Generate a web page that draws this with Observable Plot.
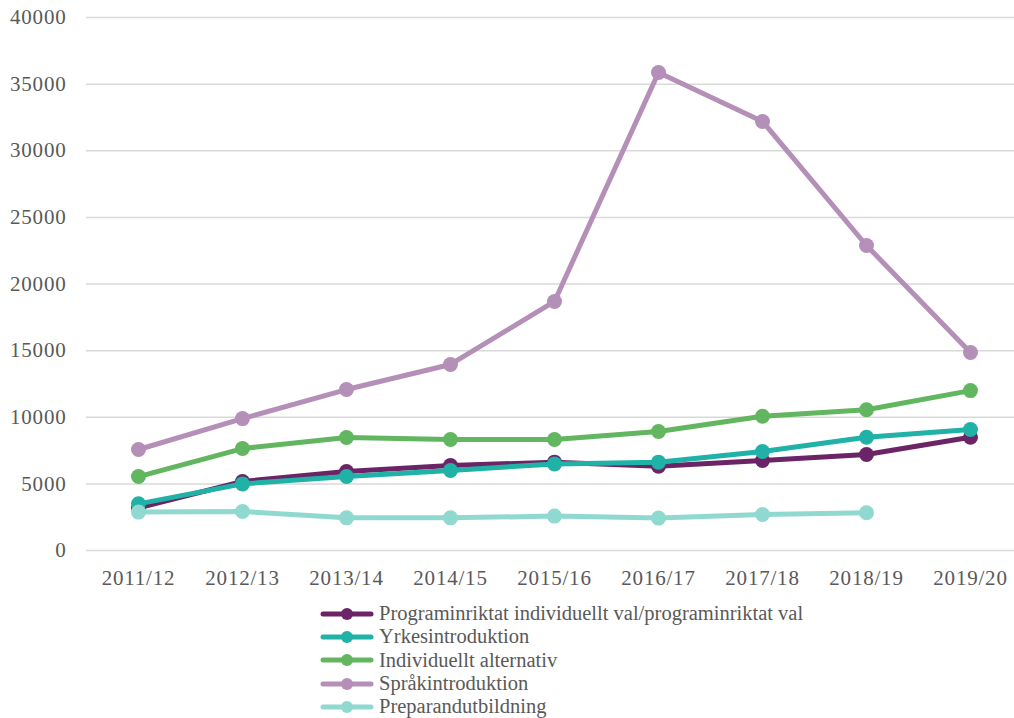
<!DOCTYPE html>
<html>
<head>
<meta charset="utf-8">
<script src="https://cdn.jsdelivr.net/npm/d3@7"></script>
<script src="https://cdn.jsdelivr.net/npm/@observablehq/plot@0.6"></script>
<style>
  html, body { margin: 0; padding: 0; background: #fff; }
  #chart { width: 1014px; }
  .legend { margin-left: 320px; margin-top: 7px; font-family: "Liberation Serif", serif; font-size: 20.5px; color: #595959; }
  .legend .item { display: flex; align-items: center; height: 23.3px; }
  .legend svg { margin-right: 5px; flex: none; }
</style>
</head>
<body>
<div id="chart"></div>
<script>
const years = ["2011/12","2012/13","2013/14","2014/15","2015/16","2016/17","2017/18","2018/19","2019/20"];
const seriesNames = [
  "Programinriktat individuellt val/programinriktat val",
  "Yrkesintroduktion",
  "Individuellt alternativ",
  "Språkintroduktion",
  "Preparandutbildning"
];
const colors = ["#6B2466", "#20B2A6", "#62B660", "#B48FB7", "#90D9D1"];
const programinriktat = [3200, 5180, 5930, 6380, 6630, 6330, 6750, 7200, 8500];
const yrkesintroduktion = [3500, 5000, 5550, 6000, 6500, 6630, 7430, 8500, 9080];
const individuellt = [5550, 7650, 8480, 8330, 8330, 8930, 10080, 10560, 12000];
const sprakintroduktion = [7580, 9900, 12080, 13960, 18690, 35870, 32200, 22890, 14860];
const preparand = [2880, 2930, 2450, 2450, 2580, 2430, 2700, 2830, null];
const yTicks = [0, 5000, 10000, 15000, 20000, 25000, 30000, 35000, 40000];

const allSeries = [programinriktat, yrkesintroduktion, individuellt, sprakintroduktion, preparand];
const data = [];
allSeries.forEach((vals, si) => {
  vals.forEach((v, i) => {
    if (v != null) data.push({series: seriesNames[si], year: years[i], value: v});
  });
});

const marks = [
  Plot.ruleY(yTicks, {stroke: "#d9d9d9", strokeWidth: 1.5})
];
seriesNames.forEach((name, si) => {
  const d = data.filter(r => r.series === name);
  marks.push(Plot.line(d, {x: "year", y: "value", stroke: colors[si], strokeWidth: 5, strokeLinejoin: "round"}));
  marks.push(Plot.dot(d, {x: "year", y: "value", fill: colors[si], r: 7.5, stroke: "none"}));
});

const chart = Plot.plot({
  width: 1014,
  height: 595,
  marginLeft: 86,
  marginRight: 0,
  marginTop: 17,
  marginBottom: 45,
  style: {fontFamily: "'Liberation Serif', serif", fontSize: "21px", color: "#595959", background: "#fff", letterSpacing: "0.8px"},
  x: {type: "point", domain: years, range: [138, 970], padding: 0, tickSize: 0, tickPadding: 20, label: null},
  y: {domain: [0, 40000], ticks: yTicks, tickSize: 0, tickPadding: 20, tickFormat: d => String(d), label: null},
  marks
});
document.getElementById("chart").appendChild(chart);

const legend = d3.select("#chart").append("div").attr("class", "legend");
seriesNames.forEach((name, si) => {
  const item = legend.append("div").attr("class", "item");
  const s = item.append("svg").attr("width", 54).attr("height", 16);
  s.append("line").attr("x1", 3).attr("x2", 51).attr("y1", 8).attr("y2", 8)
    .attr("stroke", colors[si]).attr("stroke-width", 5).attr("stroke-linecap", "round");
  s.append("circle").attr("cx", 27).attr("cy", 8).attr("r", 6).attr("fill", colors[si]);
  item.append("span").text(name);
});
</script>
</body>
</html>
